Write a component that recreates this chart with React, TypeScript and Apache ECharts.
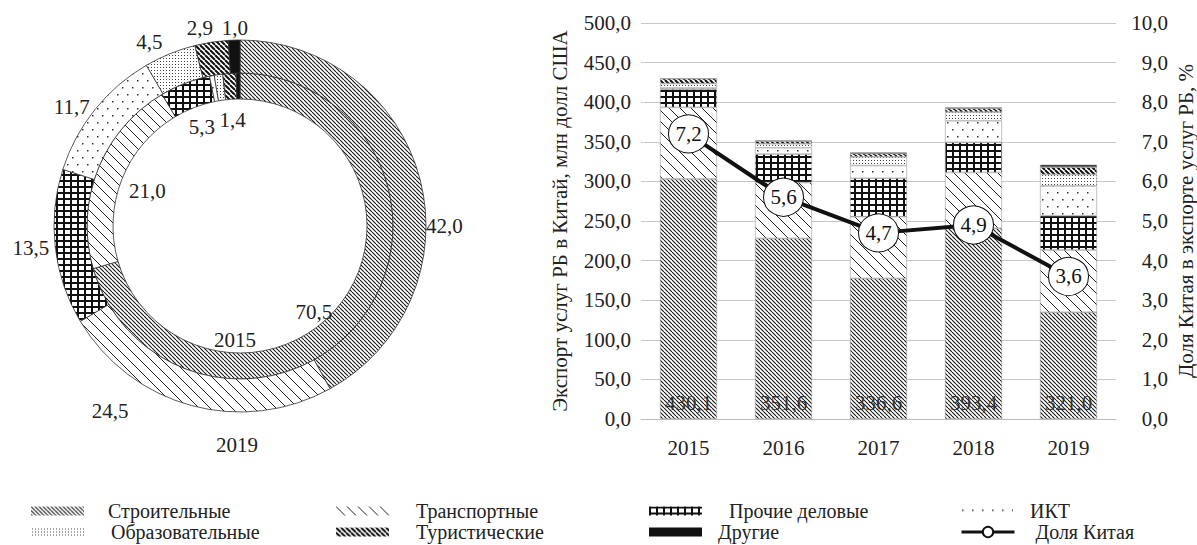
import React, { useEffect, useRef } from 'react';
import * as echarts from 'echarts';

// ---- data ----
const years = ['2015', '2016', '2017', '2018', '2019'];
const serviceNames = ['Строительные', 'Транспортные', 'Прочие деловые', 'ИКТ', 'Образовательные', 'Туристические', 'Другие'];
const construction = [303.2, 228.0, 177.5, 241.0, 134.8];
const transport = [90.3, 70.5, 78.0, 70.3, 78.6];
const business = [22.8, 36.0, 48.5, 38.0, 43.3];
const ict = [1.7, 8.0, 16.0, 27.3, 37.6];
const education = [5.5, 5.0, 11.0, 11.0, 14.4];
const tourism = [6.1, 3.2, 4.0, 4.5, 9.3];
const other = [0.5, 0.9, 1.6, 1.3, 3.0];
const totals = [430.1, 351.6, 336.6, 393.4, 321.0];
const chinaShare = [7.2, 5.6, 4.7, 4.9, 3.6];
const share2015 = [70.5, 21.0, 5.3, 0.5, 0.9, 1.4, 0.4];
const share2019 = [42.0, 24.5, 13.5, 11.7, 4.5, 2.9, 1.0];
const shareName = 'Доля Китая';
const leftAxisName = 'Экспорт услуг РБ в Китай, млн долл США';
const rightAxisName = 'Доля Китая в экспорте услуг РБ, %';

const FONT = 'Liberation Serif, Times New Roman, serif';
const TXT = '#222';

// label nudges (pixels) to follow the reference's manual label placement
const outerNudge: Record<number, [number, number]> = {
  0: [0, 47],
  1: [-60, 2],
  4: [-4, -8],
  5: [4, -10],
  6: [16, -8],
};
const innerNudge: Record<number, [number, number]> = {
  0: [-11, 22],
  1: [6, 4],
};

function fmt(v: number) {
  return Number(v).toFixed(1).replace('.', ',');
}

function tile(w: number, h: number, draw: (ctx: CanvasRenderingContext2D) => void) {
  const c = document.createElement('canvas');
  c.width = w;
  c.height = h;
  const ctx = c.getContext('2d')!;
  ctx.fillStyle = '#fff';
  ctx.fillRect(0, 0, w, h);
  draw(ctx);
  return { image: c.toDataURL(), repeat: 'repeat', imageWidth: w, imageHeight: h } as any;
}

function diag(w: number, lw: number, color: string) {
  return tile(w, w, (ctx) => {
    ctx.strokeStyle = color;
    ctx.lineWidth = lw;
    ctx.beginPath();
    for (const o of [-w, 0, w]) {
      ctx.moveTo(o, 0);
      ctx.lineTo(o + w, w);
    }
    ctx.stroke();
  });
}

function makePatterns() {
  return [
    diag(4, 1.1, '#1a1a1a'),
    diag(11, 1, '#222'),
    tile(7, 6, (ctx) => {
      ctx.fillStyle = '#111';
      ctx.fillRect(0, 0, 2, 6);
      ctx.fillRect(0, 0, 7, 2);
    }),
    tile(10, 14, (ctx) => {
      ctx.fillStyle = '#333';
      ctx.fillRect(2, 3, 1.5, 1.5);
      ctx.fillRect(7, 10, 1.5, 1.5);
    }),
    tile(3, 3, (ctx) => {
      ctx.fillStyle = '#444';
      ctx.fillRect(1, 1, 1, 1);
    }),
    diag(5, 2, '#111'),
    '#111',
  ];
}

export default function App() {
  const ref = useRef<HTMLDivElement>(null);
  useEffect(() => {
    if (!ref.current) return;
    const chart = echarts.init(ref.current, undefined, { renderer: 'svg' });
    const pats = makePatterns();
    const barArrays = [construction, transport, business, ict, education, tourism, other];

    const pieData = (arr: number[]) =>
      serviceNames.map((n, i) => ({ name: n, value: arr[i], itemStyle: { color: pats[i] } }));

    const pieLabelFmt = (p: any) => (p.value >= 1 ? fmt(p.value) : '');

    const legendRows = [
      [serviceNames[0], serviceNames[1], serviceNames[2], serviceNames[3]],
      [serviceNames[4], serviceNames[5], serviceNames[6], shareName],
    ];
    const legendLeft = [31, 336, 649, 960];
    const legendTop = [501, 522];
    const legendPad = [
      [19, 22, 22, 12],
      [22, 22, 11, 16],
    ];

    const legends: any[] = [];
    legendRows.forEach((row, ri) =>
      row.forEach((name, ci) => {
        const isLine = name === shareName;
        legends.push({
          orient: 'horizontal',
          left: legendLeft[ci],
          top: legendTop[ri],
          padding: 0,
          itemWidth: 53,
          itemHeight: isLine ? 13 : 9,
          selectedMode: false,
          icon: isLine ? undefined : 'rect',
          itemStyle: isLine ? { color: '#fff', borderColor: '#111', borderWidth: 2 } : { borderWidth: 0 },
          lineStyle: isLine ? { color: '#111', width: 3 } : undefined,
          data: [name],
          textStyle: { fontSize: 20, lineHeight: 18, fontFamily: FONT, color: TXT, padding: [0, 0, 0, legendPad[ri][ci]] },
        });
      })
    );

    const option: any = {
      animation: false,
      textStyle: { fontFamily: FONT },
      legend: legends,
      grid: { left: 641, right: 81, top: 23, bottom: 126 },
      xAxis: {
        type: 'category',
        data: years,
        axisLine: { lineStyle: { color: '#bbb' } },
        axisTick: { show: false },
        axisLabel: { fontSize: 21, color: TXT, margin: 18, fontFamily: FONT },
      },
      yAxis: [
        {
          type: 'value',
          min: 0,
          max: 500,
          interval: 50,
          position: 'left',
          name: leftAxisName,
          nameLocation: 'middle',
          nameGap: 71,
          nameRotate: 90,
          nameTextStyle: { fontSize: 21, color: TXT, fontFamily: FONT },
          axisLabel: { formatter: (v: number) => fmt(v), fontSize: 21, color: TXT, margin: 10, fontFamily: FONT },
          splitLine: { lineStyle: { color: '#c8c8c8' } },
          axisLine: { show: false },
          axisTick: { show: false },
        },
        {
          type: 'value',
          min: 0,
          max: 10,
          interval: 1,
          position: 'right',
          name: rightAxisName,
          nameLocation: 'middle',
          nameGap: 59,
          nameRotate: 90,
          nameTextStyle: { fontSize: 21, color: TXT, fontFamily: FONT },
          axisLabel: { formatter: (v: number) => fmt(v), fontSize: 21, color: TXT, margin: 52, align: 'right', fontFamily: FONT },
          splitLine: { show: false },
          axisLine: { show: false },
          axisTick: { show: false },
        },
      ],
      graphic: [
        { type: 'text', x: 235, y: 340, style: { text: years[0], fontSize: 21, fontFamily: FONT, fill: TXT, align: 'center', verticalAlign: 'middle' } },
        { type: 'text', x: 237, y: 445, style: { text: years[4], fontSize: 21, fontFamily: FONT, fill: TXT, align: 'center', verticalAlign: 'middle' } },
      ],
      series: [
        {
          type: 'pie',
          name: years[0],
          radius: [127, 153],
          center: [240, 226],
          startAngle: 90,
          clockwise: true,
          silent: true,
          avoidLabelOverlap: false,
          label: { show: false },
          labelLine: { show: false },
          itemStyle: { borderColor: '#333', borderWidth: 0.8 },
          emphasis: { disabled: true },
          data: pieData(share2015),
        },
        {
          type: 'pie',
          name: years[0] + ' labels',
          radius: [90, 116],
          center: [240, 226],
          startAngle: 90,
          clockwise: true,
          silent: true,
          avoidLabelOverlap: false,
          itemStyle: { color: 'rgba(0,0,0,0)', borderWidth: 0 },
          label: { show: true, position: 'inside', formatter: pieLabelFmt, fontSize: 21, color: TXT, fontFamily: FONT },
          labelLine: { show: false },
          labelLayout: (p: any) => {
            const n = innerNudge[p.dataIndex];
            return n ? { dx: n[0], dy: n[1] } : {};
          },
          emphasis: { disabled: true },
          data: serviceNames.map((n, i) => ({ name: n, value: share2015[i], itemStyle: { color: 'rgba(0,0,0,0)' } })),
        },
        {
          type: 'pie',
          name: years[4],
          radius: [153, 186],
          center: [240, 226],
          startAngle: 90,
          clockwise: true,
          silent: true,
          avoidLabelOverlap: false,
          label: { show: true, position: 'outside', formatter: pieLabelFmt, fontSize: 21, color: TXT, fontFamily: FONT, distanceToLabelLine: 2 },
          labelLine: { show: false, length: 4, length2: 0 },
          labelLayout: (p: any) => {
            const n = outerNudge[p.dataIndex];
            return n ? { dx: n[0], dy: n[1], hideOverlap: false } : { hideOverlap: false };
          },
          itemStyle: { borderColor: '#333', borderWidth: 0.8 },
          emphasis: { disabled: true },
          data: pieData(share2019),
        },
        ...serviceNames.map((n, i) => ({
          type: 'bar',
          name: n,
          stack: 'total',
          data: barArrays[i],
          barWidth: '60%',
          silent: true,
          itemStyle: { color: pats[i], borderColor: '#999', borderWidth: 0.6 },
          label:
            i === 0
              ? {
                  show: true,
                  position: 'insideBottom',
                  distance: 6,
                  formatter: (p: any) => fmt(totals[p.dataIndex]),
                  fontSize: 21,
                  color: '#333',
                  fontFamily: FONT,
                }
              : { show: false },
        })),
        {
          type: 'line',
          name: shareName,
          yAxisIndex: 1,
          data: chinaShare,
          symbol: 'circle',
          symbolSize: [40, 38],
          silent: true,
          z: 5,
          lineStyle: { color: '#111', width: 4 },
          itemStyle: { color: '#fff', borderColor: '#111', borderWidth: 1 },
          label: { show: true, position: 'inside', formatter: (p: any) => fmt(p.value), fontSize: 21, color: '#111', fontFamily: FONT },
        },
      ],
    };
    chart.setOption(option);
    return () => chart.dispose();
  }, []);
  return <div ref={ref} style={{ position: 'absolute', left: 0, top: 0, width: 1197, height: 545 }} />;
}
